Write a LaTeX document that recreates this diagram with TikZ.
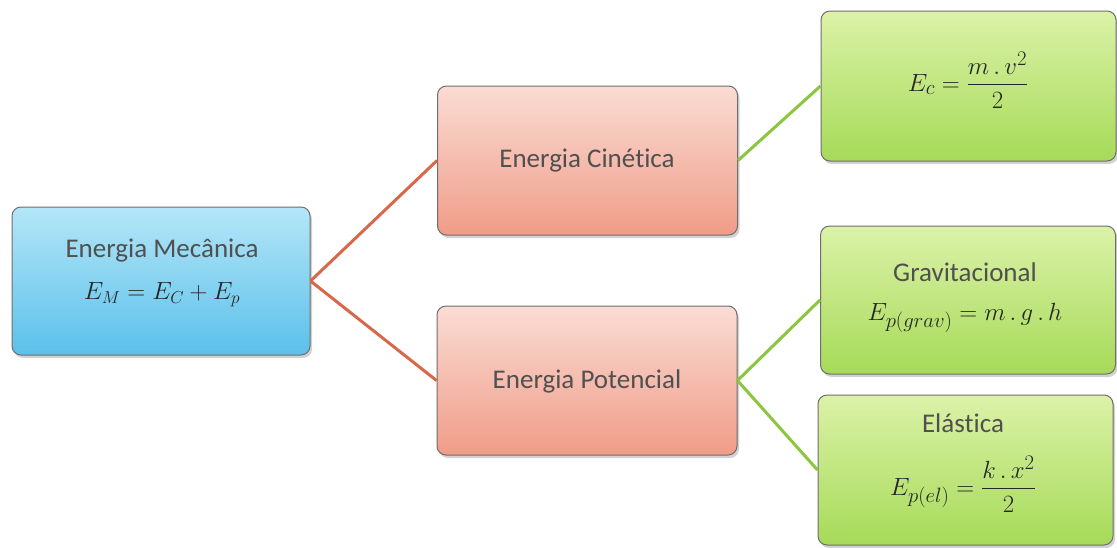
\documentclass[tikz,border=0pt]{standalone}
\usepackage{amsmath}
\usepackage{fontspec}
\setmainfont[Ligatures=NoCommon]{Carlito}
\usetikzlibrary{shadows}
\definecolor{txt}{HTML}{505050}
\definecolor{mtxt}{HTML}{262626}
\definecolor{bdr}{HTML}{6E6E6E}
\definecolor{blueT}{HTML}{B4E6F8}
\definecolor{blueB}{HTML}{5BC0EA}
\definecolor{redT}{HTML}{FADCD4}
\definecolor{redB}{HTML}{F09C88}
\definecolor{grnT}{HTML}{DCF2A8}
\definecolor{grnB}{HTML}{A6DA58}
\definecolor{redline}{HTML}{D9684A}
\definecolor{grnline}{HTML}{8CC63F}
\tikzset{
  box/.style={draw=bdr, line width=1pt, rounded corners=9pt, minimum width=#1, inner sep=0pt,
     drop shadow={shadow xshift=2pt, shadow yshift=-3pt, opacity=0.35}},
  bluebox/.style={box=298pt, minimum height=148pt, top color=blueT, bottom color=blueB},
  redbox/.style={box=300pt, minimum height=149pt, top color=redT, bottom color=redB},
  grnbox/.style={box=295pt, minimum height=150pt, top color=grnT, bottom color=grnB},
  lbl/.style={text=txt, font=\fontsize{27}{32}\selectfont, inner sep=0pt},
  frm/.style={text=mtxt, font=\fontsize{29}{34}\selectfont, inner sep=0pt},
  redcon/.style={draw=redline, line width=3pt},
  grncon/.style={draw=grnline, line width=3pt},
}
\begin{document}
\begin{tikzpicture}[x=1pt,y=-1pt]
\useasboundingbox (0,0) rectangle (1117,547);
\fill[white] (0,0) rectangle (1117,547);
% boxes
\node[bluebox] (mec) at (161,281) {};
\node[redbox] (cin) at (587.5,160.5) {};
\node[redbox] (pot) at (587,380.5) {};
\node[grnbox] (ec) at (968.5,86) {};
\node[grnbox, minimum height=148pt] (grav) at (968,300) {};
\node[grnbox] (el) at (965.5,470) {};
% texts
\node[lbl] (mecT) at (162,251) {Energia Mecânica};
\node[frm, font=\fontsize{27}{32}\selectfont] (mecF) at (162,295) {$E_M = E_C + E_p$};
\node[lbl] (cinT) at (587,161) {Energia Cinética};
\node[lbl] (potT) at (587,381) {Energia Potencial};
\node[frm] (ecF) at (968,80) {$E_c = \dfrac{m\,.\,v^2}{2}$};
\node[lbl] (gravT) at (965,272) {Gravitacional};
\node[frm] (gravF) at (965,318) {$E_{p(grav)} = m\,.\,g\,.\,h$};
\node[lbl] (elT) at (963,423) {Elástica};
\node[frm] (elF) at (963,484) {$E_{p(el)} = \dfrac{k\,.\,x^2}{2}$};
% connectors
\draw[redcon] (mec.east) -- (cin.west);
\draw[redcon] (mec.east) -- (pot.west);
\draw[grncon] (cin.east) -- (ec.west);
\draw[grncon] (pot.east) -- (grav.west);
\draw[grncon] (pot.east) -- (el.west);
\end{tikzpicture}
\end{document}
